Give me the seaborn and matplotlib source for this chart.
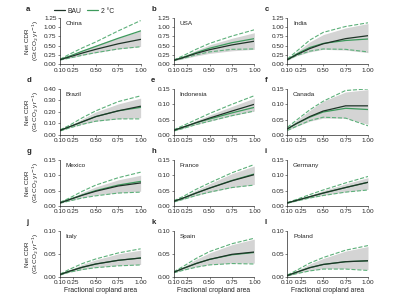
import matplotlib
matplotlib.use('Agg')
import matplotlib.pyplot as plt
from matplotlib.lines import Line2D
import seaborn as sns
import pandas as pd

countries = ['China', 'USA', 'India', 'Brazil', 'Indonesia', 'Canada',
             'Mexico', 'France', 'Germany', 'Italy', 'Spain', 'Poland']
letters = list('abcdefghijkl')
area = [0.10, 0.20, 0.35, 0.50, 0.75, 1.00]

bau = [
    [0.12, 0.19, 0.30, 0.40, 0.55, 0.67],
    [0.10, 0.17, 0.29, 0.39, 0.52, 0.62],
    [0.12, 0.25, 0.42, 0.55, 0.69, 0.77],
    [0.04, 0.07, 0.115, 0.16, 0.21, 0.25],
    [0.015, 0.025, 0.04, 0.055, 0.078, 0.10],
    [0.02, 0.037, 0.06, 0.078, 0.095, 0.095],
    [0.01, 0.02, 0.035, 0.048, 0.065, 0.075],
    [0.015, 0.025, 0.042, 0.058, 0.082, 0.102],
    [0.01, 0.018, 0.03, 0.042, 0.06, 0.077],
    [0.005, 0.012, 0.021, 0.028, 0.036, 0.041],
    [0.01, 0.018, 0.029, 0.038, 0.049, 0.054],
    [0.003, 0.01, 0.02, 0.027, 0.033, 0.035],
]
two_deg = [
    [0.12, 0.21, 0.35, 0.48, 0.70, 0.90],
    [0.10, 0.18, 0.31, 0.43, 0.58, 0.69],
    [0.12, 0.27, 0.45, 0.56, 0.64, 0.68],
    [0.04, 0.07, 0.115, 0.16, 0.21, 0.24],
    [0.015, 0.025, 0.04, 0.052, 0.072, 0.09],
    [0.02, 0.037, 0.058, 0.075, 0.087, 0.083],
    [0.01, 0.021, 0.036, 0.05, 0.068, 0.08],
    [0.015, 0.025, 0.042, 0.058, 0.083, 0.104],
    [0.01, 0.018, 0.03, 0.042, 0.06, 0.077],
    [0.005, 0.012, 0.021, 0.028, 0.036, 0.041],
    [0.01, 0.018, 0.029, 0.038, 0.048, 0.053],
    [0.003, 0.01, 0.02, 0.027, 0.033, 0.035],
]
band_lo = [
    [0.11, 0.16, 0.24, 0.31, 0.41, 0.48],
    [0.09, 0.14, 0.22, 0.29, 0.36, 0.40],
    [0.10, 0.22, 0.33, 0.40, 0.38, 0.31],
    [0.035, 0.062, 0.095, 0.12, 0.14, 0.15],
    [0.013, 0.021, 0.034, 0.045, 0.063, 0.078],
    [0.015, 0.028, 0.045, 0.055, 0.055, 0.035],
    [0.009, 0.016, 0.027, 0.035, 0.043, 0.048],
    [0.013, 0.021, 0.034, 0.045, 0.06, 0.07],
    [0.009, 0.016, 0.026, 0.035, 0.046, 0.054],
    [0.004, 0.01, 0.016, 0.021, 0.025, 0.027],
    [0.009, 0.015, 0.022, 0.027, 0.03, 0.03],
    [0.002, 0.007, 0.014, 0.018, 0.018, 0.016],
]
band_hi = [
    [0.13, 0.22, 0.38, 0.52, 0.72, 0.90],
    [0.11, 0.20, 0.37, 0.52, 0.70, 0.85],
    [0.14, 0.32, 0.60, 0.80, 0.98, 1.10],
    [0.045, 0.078, 0.14, 0.20, 0.27, 0.32],
    [0.017, 0.028, 0.047, 0.065, 0.093, 0.12],
    [0.025, 0.047, 0.08, 0.11, 0.14, 0.148],
    [0.011, 0.023, 0.044, 0.062, 0.085, 0.10],
    [0.017, 0.029, 0.051, 0.072, 0.105, 0.13],
    [0.011, 0.02, 0.035, 0.05, 0.072, 0.092],
    [0.006, 0.015, 0.027, 0.037, 0.05, 0.058],
    [0.011, 0.021, 0.038, 0.052, 0.07, 0.082],
    [0.004, 0.013, 0.028, 0.04, 0.056, 0.066],
]
dash_hi = [
    [0.13, 0.26, 0.44, 0.60, 0.90, 1.18],
    [0.11, 0.22, 0.40, 0.56, 0.76, 0.93],
    [0.14, 0.34, 0.65, 0.86, 1.02, 1.12],
    [0.045, 0.082, 0.15, 0.21, 0.29, 0.34],
    [0.017, 0.03, 0.05, 0.07, 0.10, 0.128],
    [0.025, 0.048, 0.082, 0.11, 0.145, 0.15],
    [0.012, 0.025, 0.048, 0.068, 0.092, 0.11],
    [0.017, 0.03, 0.054, 0.075, 0.108, 0.135],
    [0.011, 0.021, 0.037, 0.052, 0.075, 0.096],
    [0.006, 0.016, 0.029, 0.039, 0.052, 0.061],
    [0.011, 0.022, 0.04, 0.055, 0.072, 0.084],
    [0.004, 0.014, 0.03, 0.042, 0.058, 0.068],
]
dash_lo = [
    [0.11, 0.16, 0.24, 0.31, 0.41, 0.47],
    [0.10, 0.15, 0.25, 0.33, 0.40, 0.41],
    [0.11, 0.23, 0.35, 0.41, 0.40, 0.33],
    [0.035, 0.06, 0.093, 0.12, 0.14, 0.14],
    [0.013, 0.021, 0.034, 0.045, 0.063, 0.078],
    [0.015, 0.028, 0.047, 0.058, 0.055, 0.03],
    [0.009, 0.016, 0.026, 0.033, 0.042, 0.045],
    [0.013, 0.021, 0.034, 0.045, 0.06, 0.068],
    [0.009, 0.016, 0.026, 0.034, 0.045, 0.052],
    [0.004, 0.01, 0.016, 0.02, 0.024, 0.026],
    [0.009, 0.014, 0.021, 0.026, 0.029, 0.028],
    [0.002, 0.007, 0.013, 0.017, 0.017, 0.014],
]
y_ticks = [
    [0, 0.25, 0.5, 0.75, 1.0, 1.25], [0, 0.25, 0.5, 0.75, 1.0, 1.25],
    [0, 0.25, 0.5, 0.75, 1.0, 1.25],
    [0, 0.1, 0.2, 0.3, 0.4], [0, 0.05, 0.1, 0.15], [0, 0.05, 0.1, 0.15],
    [0, 0.05, 0.1, 0.15], [0, 0.05, 0.1, 0.15], [0, 0.05, 0.1, 0.15],
    [0, 0.05, 0.1], [0, 0.05, 0.1], [0, 0.05, 0.1],
]
x_ticks = [0.10, 0.25, 0.50, 0.75, 1.00]

sns.set_style('ticks')
plt.rcParams['font.family'] = ['Liberation Sans', 'DejaVu Sans']
fs = 4.6

c_bau = '#1e3327'
c_2c = '#3d9a5c'
c_dash = '#5db07a'
c_band = '#d4d4d4'

fig, axes = plt.subplots(4, 3, figsize=(4, 3), dpi=100)
fig.subplots_adjust(left=0.15, right=0.92, top=0.94, bottom=0.077,
                    wspace=0.41, hspace=0.54)

for i, ax in enumerate(axes.flat):
    df = pd.DataFrame({'area': area, 'bau': bau[i], 'two': two_deg[i],
                       'lo': band_lo[i], 'hi': band_hi[i],
                       'dlo': dash_lo[i], 'dhi': dash_hi[i]})
    ax.fill_between(df['area'], df['lo'], df['hi'], color=c_band, lw=0)
    for col in ['dlo', 'dhi']:
        sns.lineplot(data=df, x='area', y=col, ax=ax, color=c_dash,
                     lw=0.8, dashes=(5, 2.5), linestyle='--')
    sns.lineplot(data=df, x='area', y='two', ax=ax, color=c_2c, lw=0.9)
    sns.lineplot(data=df, x='area', y='bau', ax=ax, color=c_bau, lw=0.9)

    ax.set_xlim(0.1, 1.0)
    ax.set_ylim(0, y_ticks[i][-1])
    ax.set_xticks(x_ticks)
    ax.set_xticklabels(['%.2f' % t for t in x_ticks])
    ax.set_yticks(y_ticks[i])
    ax.set_yticklabels(['%.2f' % t for t in y_ticks[i]])
    ax.tick_params(labelsize=fs, length=1.5, width=0.4, pad=1)
    for s in ['left', 'bottom']:
        ax.spines[s].set_linewidth(0.5)
    sns.despine(ax=ax)

    ax.set_xlabel('Fractional cropland area' if i >= 9 else '', fontsize=fs + 0.3, labelpad=1)
    if i % 3 == 0:
        ax.set_ylabel('Net CDR\n(Gt CO$_2$ yr$^{-1}$)', fontsize=fs, labelpad=2,
                      linespacing=1.1)
    else:
        ax.set_ylabel('')

    ax.text(0.07, 0.93, countries[i], transform=ax.transAxes, fontsize=fs,
            va='top', ha='left')
    ax.text(-0.42 if i % 3 == 0 else -0.28, 1.1, letters[i],
            transform=ax.transAxes, fontsize=fs + 1, fontweight='bold',
            va='bottom', ha='left')

handles = [Line2D([], [], color=c_bau, lw=0.9), Line2D([], [], color=c_2c, lw=0.9)]
fig.legend(handles, ['BAU', '2 °C'], loc='center left', bbox_to_anchor=(0.12, 0.963),
           ncol=2, frameon=False, fontsize=fs + 0.3, handlelength=1.6,
           columnspacing=0.8, handletextpad=0.4)

fig.savefig('out.png', dpi=100)
